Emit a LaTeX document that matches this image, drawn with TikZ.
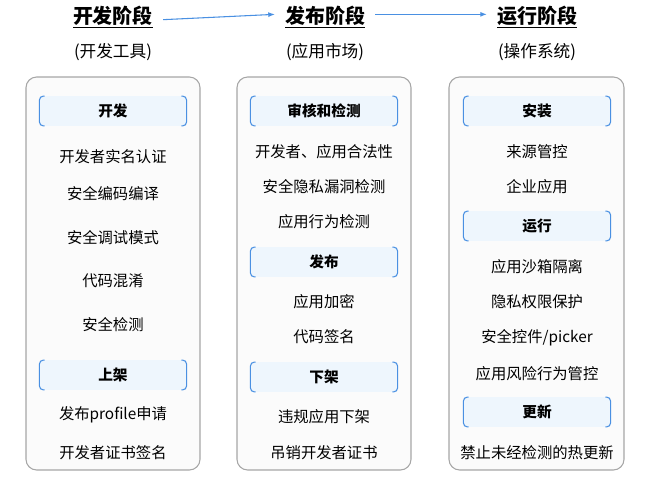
\documentclass[tikz,border=0pt]{standalone}
\usepackage{fontspec}
\setmainfont{Noto Sans CJK SC}
\usetikzlibrary{arrows.meta}
\definecolor{bl}{HTML}{4A90E2}
\definecolor{bfill}{HTML}{EEF6FD}
\tikzset{x=0.75pt,y=-0.75pt,
 col/.style={draw=gray!70,line width=0.8pt,rounded corners=8pt,fill=gray!3},
 sec/.style={fill=bfill,minimum width=110pt,minimum height=22pt,font=\fontsize{11}{13}\selectfont\bfseries},
 item/.style={font=\fontsize{11.5}{13}\selectfont},
 ttl/.style={font=\fontsize{15}{17}\selectfont\bfseries},
 sub/.style={font=\fontsize{12.5}{15}\selectfont},
 arr/.style={-{Latex[length=5pt]},draw=bl,line width=0.8pt}}
\newcommand{\secbox}[4]{%
 \node[sec] (#1) at (#2,#3) {#4};
 \draw[bl,line width=0.8pt,rounded corners=3pt] ([xshift=4pt]#1.north west) -- (#1.north west) -- (#1.south west) -- ([xshift=4pt]#1.south west);
 \draw[bl,line width=0.8pt,rounded corners=3pt] ([xshift=-4pt]#1.north east) -- (#1.north east) -- (#1.south east) -- ([xshift=-4pt]#1.south east);}
\begin{document}
\begin{tikzpicture}
\useasboundingbox (0,0) rectangle (669,490);
\node[ttl] (t1) at (113,17) {\underline{开发阶段}};
\node[ttl] (t2) at (325,17) {\underline{发布阶段}};
\node[ttl] (t3) at (537,17) {\underline{运行阶段}};
\draw[arr] (t1.east) ++(4pt,-2pt) coordinate (a1) -- ([xshift=-4pt,yshift=2pt]t2.west);
\draw[arr] ([xshift=4pt,yshift=2pt]t2.east) -- ([xshift=-4pt,yshift=2pt]t3.west);
\node[sub] (s1) at (113,52) {(开发工具)};
\node[sub] (s2) at (325,52) {(应用市场)};
\node[sub] (s3) at (537,52) {(操作系统)};
\draw[col] (26,77) rectangle (200,470);
\draw[col] (237,77) rectangle (411,470);
\draw[col] (449,77) rectangle (624,470);
% col1
\secbox{c1a}{113}{111}{开发}
\node[item] (i11) at (113,157) {开发者实名认证};
\node[item] (i12) at (113,194) {安全编码编译};
\node[item] (i13) at (113,238) {安全调试模式};
\node[item] (i14) at (113,281) {代码混淆};
\node[item] (i15) at (113,325) {安全检测};
\secbox{c1b}{113}{375}{上架}
\node[item] (i16) at (113,415) {发布profile申请};
\node[item] (i17) at (113,453) {开发者证书签名};
% col2
\secbox{c2a}{324}{111}{审核和检测}
\node[item] (i21) at (324,152) {开发者、应用合法性};
\node[item] (i22) at (324,187) {安全隐私漏洞检测};
\node[item] (i23) at (324,222) {应用行为检测};
\secbox{c2b}{324}{262}{发布}
\node[item] (i24) at (324,302) {应用加密};
\node[item] (i25) at (324,337) {代码签名};
\secbox{c2c}{324}{377}{下架}
\node[item] (i26) at (324,417) {违规应用下架};
\node[item] (i27) at (324,453) {吊销开发者证书};
% col3
\secbox{c3a}{537}{111}{安装}
\node[item] (i31) at (537,152) {来源管控};
\node[item] (i32) at (537,187) {企业应用};
\secbox{c3b}{537}{226}{运行}
\node[item] (i33) at (537,267) {应用沙箱隔离};
\node[item] (i34) at (537,302) {隐私权限保护};
\node[item] (i35) at (537,338) {安全控件/picker};
\node[item] (i36) at (537,374) {应用风险行为管控};
\secbox{c3c}{537}{412}{更新}
\node[item] (i37) at (537,453) {禁止未经检测的热更新};
\end{tikzpicture}
\end{document}
